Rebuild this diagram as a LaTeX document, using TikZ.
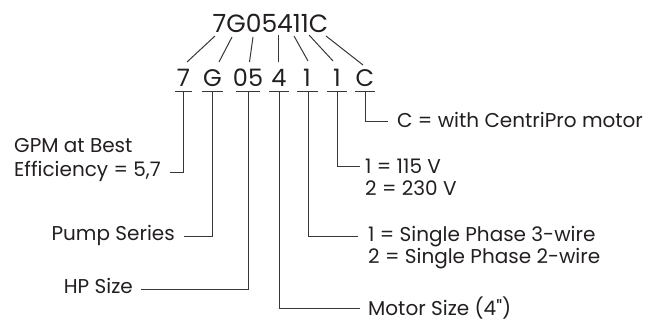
\documentclass[tikz,border=0pt]{standalone}
\usepackage{fontspec}
\newfontfamily\lblfont{Poppins}
\definecolor{ink}{RGB}{35,31,32}
\definecolor{wire}{RGB}{55,55,55}
\begin{document}
\begin{tikzpicture}[x=1pt,y=-1pt,
  lbl/.style={font=\lblfont\fontsize{20}{23}\selectfont, text=ink, inner sep=0pt, align=left},
  code/.style={font=\lblfont\fontsize{25}{30}\selectfont, text=ink, inner sep=0pt, anchor=base},
  digit/.style={font=\lblfont\fontsize{24}{28}\selectfont, text=ink, inner sep=0pt, anchor=base},
  wireline/.style={draw=wire, line width=1pt}]
\useasboundingbox (0,0) rectangle (650,320);

% top code
\node[code] (top) at (270.5,33) {7G05411C};

% digit groups
\node[digit] (d1) at (183.5,87) {7};
\node[digit] (d2) at (212.5,87) {G};
\node[digit] (d3) at (248,87) {05};
\node[digit] (d4) at (279,87) {4};
\node[digit] (d5) at (307,87) {1};
\node[digit] (d6) at (337,87) {1};
\node[digit] (d7) at (365,87) {C};

% diagonal ends
\coordinate (a1) at (215,36);   \coordinate (b1) at (187,62);
\coordinate (a2) at (232,37);   \coordinate (b2) at (219,62);
\coordinate (a3) at (253,37);   \coordinate (b3) at (249.5,62);
\coordinate (a4) at (278,35);   \coordinate (b4) at (278,62);
\coordinate (a5) at (294,36);   \coordinate (b5) at (308,61);
\coordinate (a6) at (309,35);   \coordinate (b6) at (333,61);
\coordinate (a7) at (326,36);   \coordinate (b7) at (363,65);
\foreach \i in {1,...,7} \draw[wireline] (a\i) -- (b\i);

% underlines
\coordinate (u1) at (183.5,92); \draw[wireline] (175,92) -- (192,92);
\coordinate (u2) at (212.5,92); \draw[wireline] (202,92) -- (223,92);
\coordinate (u3) at (248,92);   \draw[wireline] (236,92) -- (260,92);
\coordinate (u4) at (279,92);   \draw[wireline] (269,92) -- (289,92);
\coordinate (u5) at (308,92);   \draw[wireline] (297,92) -- (318,92);
\coordinate (u6) at (337,92);   \draw[wireline] (327,92) -- (347,92);
\coordinate (u7) at (365,92);   \draw[wireline] (355,92) -- (375,92);

% labels (multi-line nodes: base = baseline of last line)
\node[lbl, anchor=base west, font=\lblfont\fontsize{20}{24}\selectfont] (gpm) at (14,177) {GPM at Best\\Efficiency = 5,7};
\node[lbl, anchor=base east] (pump) at (175,241) {Pump Series};
\node[lbl, anchor=base east] (hp) at (133,293) {HP Size};
\node[lbl, anchor=base west] (motor) at (368,315) {Motor Size (4")};
\node[lbl, anchor=base west, font=\lblfont\fontsize{20}{20}\selectfont] (phase) at (368,263) {1 = Single Phase 3-wire\\2 = Single Phase 2-wire};
\node[lbl, anchor=base west, font=\lblfont\fontsize{20}{22}\selectfont] (volt) at (365,196) {1 = 115 V\\2 = 230 V};
\node[lbl, anchor=base west] (cm) at (397,128) {C = with CentriPro motor};

% connector ends
\coordinate (e1) at (170,173);
\coordinate (e2) at (184,237);
\coordinate (e3) at (141,289);
\coordinate (e4) at (360,308);
\coordinate (e5) at (358,237);
\coordinate (e6) at (360,167);
\coordinate (e7) at (388,122);
\foreach \i in {1,...,7} \draw[wireline] (u\i) |- (e\i);
\end{tikzpicture}
\end{document}
